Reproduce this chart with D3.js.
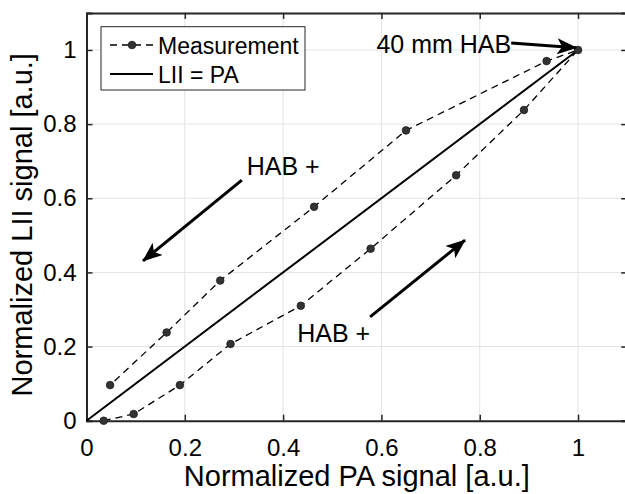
<!DOCTYPE html>
<html>
<head>
<meta charset="utf-8">
<script src="https://cdn.jsdelivr.net/npm/d3@7"></script>
<style>
  html, body { margin: 0; padding: 0; background: #fff; }
  svg text { font-family: "Liberation Sans", Arial, Helvetica, sans-serif; fill: #000; }
</style>
</head>
<body>
<div id="chart"></div>
<script>
// Measurement: lower branch up to 40 mm HAB, then back down along the upper branch
var PA_VALUES  = [0.035, 0.096, 0.190, 0.293, 0.436, 0.578, 0.752, 0.890, 1.000, 0.936, 0.650, 0.463, 0.272, 0.163, 0.048];
var LII_VALUES = [0.000, 0.018, 0.096, 0.207, 0.310, 0.464, 0.662, 0.838, 1.000, 0.970, 0.783, 0.577, 0.378, 0.238, 0.096];

var IDENTITY = [0, 1];
var TICKS = [0, 0.2, 0.4, 0.6, 0.8, 1];

// Annotation arrows [x1, y1, x2, y2] in data units, and their labels
var ARROWS = [
  [0.316, 0.649, 0.115, 0.431],
  [0.577, 0.280, 0.770, 0.487],
  [0.864, 1.019, 0.996, 1.006]
];
var NOTES = [
  { text: "HAB +", x: 0.326, y: 0.663, anchor: "start" },
  { text: "HAB +", x: 0.577, y: 0.213, anchor: "end" },
  { text: "40 mm HAB", x: 0.864, y: 0.991, anchor: "end" }
];

var width = 625, height = 494;
var axisColor = "#262626";

var svg = d3.select("#chart").append("svg")
  .attr("width", width).attr("height", height);

var x = d3.scaleLinear().domain([0, 1.1]).range([86.5, 627.2]);
var y = d3.scaleLinear().domain([0, 1.1]).range([420.7, 12.9]);

// grid
var grid = svg.append("g");
TICKS.slice(1).forEach(function(t) {
  grid.append("line").attr("x1", x(t)).attr("x2", x(t)).attr("y1", y(0)).attr("y2", y(1.1))
    .attr("stroke", "#e3e3e3").attr("stroke-width", 1);
  grid.append("line").attr("y1", y(t)).attr("y2", y(t)).attr("x1", x(0)).attr("x2", x(1.1))
    .attr("stroke", "#e3e3e3").attr("stroke-width", 1);
});

// axes with inward ticks
var fs = 24;
var xAxis = svg.append("g").attr("transform", "translate(0," + y(0) + ")")
  .call(d3.axisBottom(x).tickValues(TICKS).tickSize(-6).tickPadding(18).tickFormat(d3.format("~g")));
var yAxis = svg.append("g").attr("transform", "translate(" + x(0) + ",0)")
  .call(d3.axisLeft(y).tickValues(TICKS).tickSize(-6).tickPadding(10).tickFormat(d3.format("~g")));
var xTop = svg.append("g").attr("transform", "translate(0," + y(1.1) + ")")
  .call(d3.axisTop(x).tickValues(TICKS).tickSize(-6).tickFormat(""));
var yRight = svg.append("g").attr("transform", "translate(" + x(1.1) + ",0)")
  .call(d3.axisRight(y).tickValues(TICKS).tickSize(-6).tickFormat(""));

[xAxis, yAxis, xTop, yRight].forEach(function(g) {
  g.select(".domain").attr("stroke", axisColor).attr("stroke-width", 2);
  g.selectAll(".tick line").attr("stroke", axisColor).attr("stroke-width", 1.5);
  g.selectAll(".tick text").attr("font-size", fs).attr("fill", "#000")
    .style("font-family", "'Liberation Sans', Arial, sans-serif");
});
xAxis.selectAll(".tick text").attr("dy", "0.71em");

// axis labels
svg.append("text").attr("x", (x(0) + x(1.1)) / 2).attr("y", 486)
  .attr("text-anchor", "middle").attr("font-size", 29)
  .text("Normalized PA signal [a.u.]");
svg.append("text")
  .attr("transform", "translate(32," + ((y(0) + y(1.1)) / 2 + 8) + ") rotate(-90)")
  .attr("text-anchor", "middle").attr("font-size", 29)
  .text("Normalized LII signal [a.u.]");

// identity line
svg.append("line")
  .attr("x1", x(IDENTITY[0])).attr("y1", y(IDENTITY[0]))
  .attr("x2", x(IDENTITY[1])).attr("y2", y(IDENTITY[1]))
  .attr("stroke", "#000").attr("stroke-width", 2);

// measurement
var pts = PA_VALUES.map(function(v, i) { return [v, LII_VALUES[i]]; });
svg.append("path").datum(pts)
  .attr("d", d3.line().x(function(d) { return x(d[0]); }).y(function(d) { return y(d[1]); }))
  .attr("fill", "none").attr("stroke", "#000").attr("stroke-width", 1.3)
  .attr("stroke-dasharray", "7,5");
svg.append("g").selectAll("circle").data(pts).enter().append("circle")
  .attr("cx", function(d) { return x(d[0]); })
  .attr("cy", function(d) { return y(d[1]); })
  .attr("r", 3.8).attr("fill", "#333").attr("stroke", "#1a1a1a").attr("stroke-width", 0.8);

// arrows
var defs = svg.append("defs");
defs.append("marker").attr("id", "head")
  .attr("viewBox", "0 0 20 16").attr("refX", 19).attr("refY", 8)
  .attr("markerWidth", 20).attr("markerHeight", 16).attr("markerUnits", "userSpaceOnUse")
  .attr("orient", "auto")
  .append("path").attr("d", "M0,0 L20,8 L0,16 L5,8 Z").attr("fill", "#000");

ARROWS.forEach(function(a) {
  svg.append("line")
    .attr("x1", x(a[0])).attr("y1", y(a[1]))
    .attr("x2", x(a[2])).attr("y2", y(a[3]))
    .attr("stroke", "#000").attr("stroke-width", 3)
    .attr("marker-end", "url(#head)");
});

NOTES.forEach(function(n) {
  svg.append("text").attr("x", x(n.x)).attr("y", y(n.y))
    .attr("text-anchor", n.anchor).attr("font-size", 25)
    .text(n.text);
});

// legend
var lg = svg.append("g");
lg.append("rect").attr("x", 101).attr("y", 26.7).attr("width", 204).attr("height", 63.3)
  .attr("fill", "#fff").attr("stroke", axisColor).attr("stroke-width", 1);
lg.append("line").attr("x1", 110).attr("x2", 153).attr("y1", 45).attr("y2", 45)
  .attr("stroke", "#000").attr("stroke-width", 1.3).attr("stroke-dasharray", "7,5");
lg.append("circle").attr("cx", 132).attr("cy", 45).attr("r", 3.8)
  .attr("fill", "#333").attr("stroke", "#1a1a1a").attr("stroke-width", 0.8);
lg.append("text").attr("x", 158).attr("y", 46).attr("dy", "0.36em").attr("font-size", 23)
  .text("Measurement");
lg.append("line").attr("x1", 110).attr("x2", 153).attr("y1", 74).attr("y2", 74)
  .attr("stroke", "#000").attr("stroke-width", 2);
lg.append("text").attr("x", 158).attr("y", 75).attr("dy", "0.36em").attr("font-size", 23)
  .text("LII = PA");
</script>
</body>
</html>
